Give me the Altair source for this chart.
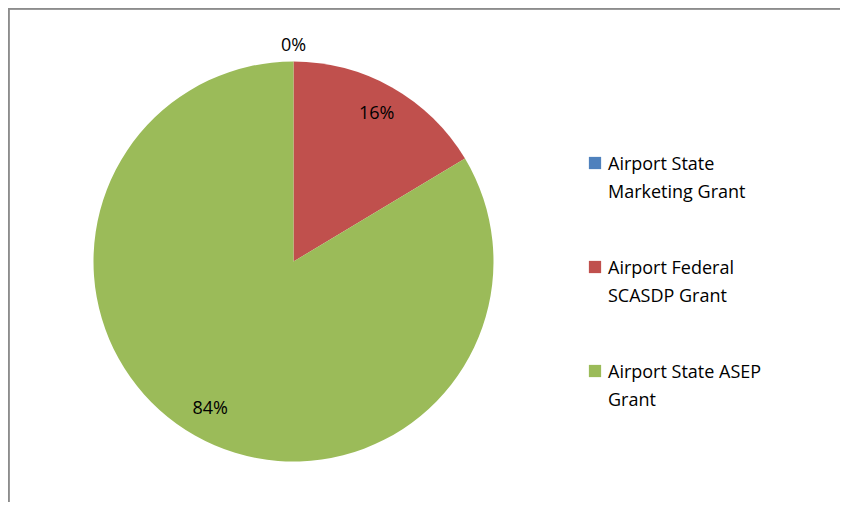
import altair as alt
import pandas as pd

categories = ["Airport State Marketing Grant", "Airport Federal SCASDP Grant", "Airport State ASEP Grant"]
values = [0.0, 16.4, 83.6]
colors = ["#4F81BD", "#C0504D", "#9BBB59"]
legend_lines = [["Airport State", "Marketing Grant"], ["Airport Federal", "SCASDP Grant"], ["Airport State ASEP", "Grant"]]

W, H = 832, 494
CX, CY = 285.5, 253.5
FONT = "Open Sans"

df = pd.DataFrame({"category": categories, "value": values, "idx": list(range(len(categories)))})

label_expr = ""
for c, lines in zip(categories, legend_lines):
    arr = "[" + ",".join("'" + l + "'" for l in lines) + "]"
    label_expr += f"datum.label == '{c}' ? {arr} : "
label_expr += "datum.label"

base = alt.Chart(df).transform_joinaggregate(total="sum(value)").transform_calculate(
    pct="datum.value / datum.total"
).encode(
    theta=alt.Theta("value:Q", stack=True),
    order=alt.Order("idx:Q"),
    x=alt.value(CX),
    y=alt.value(CY),
)

pie = base.mark_arc(outerRadius=200).encode(
    color=alt.Color(
        "category:N",
        scale=alt.Scale(domain=categories, range=colors),
        sort=categories,
        legend=alt.Legend(
            title=None,
            orient="none",
            legendX=578,
            legendY=146,
            symbolType="square",
            symbolSize=150,
            symbolStrokeWidth=0,
            labelFont=FONT,
            labelFontSize=18,
            labelColor="#000000",
            labelLimit=0,
            labelOffset=4,
            labelExpr=label_expr,
            labelBaseline="top",
            rowPadding=56,
        ),
    )
)

inner = base.transform_filter("datum.pct >= 0.005").mark_text(
    radius=169, font=FONT, fontSize=18, color="#000000"
).encode(text=alt.Text("pct:Q", format=".0%"))

outer = base.transform_filter("datum.pct < 0.005").mark_text(
    radius=216, font=FONT, fontSize=18, color="#000000"
).encode(text=alt.Text("pct:Q", format=".0%"))

frame_top = alt.Chart(df).mark_rule(color="#8c8c8c", strokeWidth=1.5).encode(
    x=alt.value(0), x2=alt.value(W), y=alt.value(0.75)
)
frame_left = alt.Chart(df).mark_rule(color="#8c8c8c", strokeWidth=1.5).encode(
    x=alt.value(0.75), y=alt.value(0), y2=alt.value(H)
)

chart = alt.layer(frame_top, frame_left, pie, inner, outer).properties(
    width=W, height=H, autosize=alt.AutoSizeParams(type="none"), padding=0
).configure_view(stroke="transparent", strokeWidth=0).configure(
    background="white",
    style={"guide-label": {"lineHeight": 28, "dy": -7}},
)

chart.save("out.html", embed_options={"renderer": "svg", "actions": False})
